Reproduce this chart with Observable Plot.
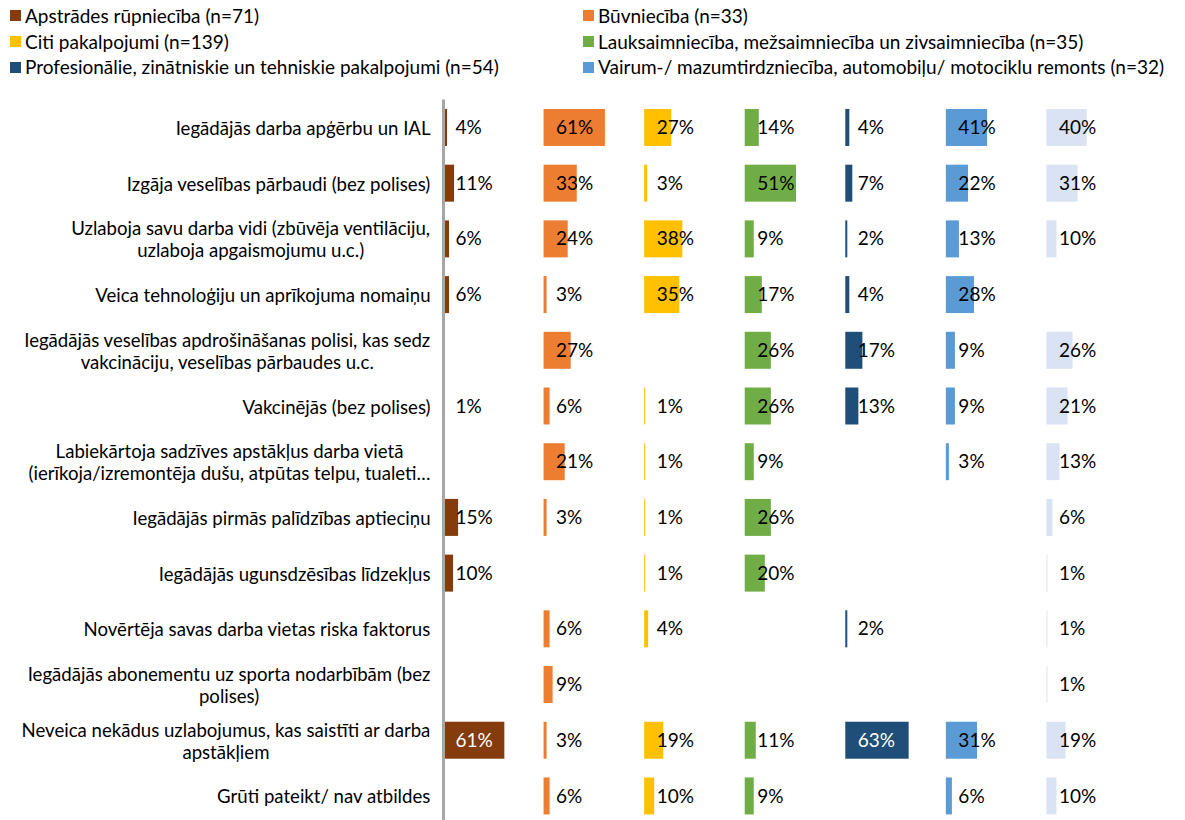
<!DOCTYPE html>
<html><head><meta charset="utf-8">
<script src="https://cdn.jsdelivr.net/npm/d3@7"></script>
<script src="https://cdn.jsdelivr.net/npm/@observablehq/plot@0.6"></script>
<style>
body{margin:0;background:#fff;font-family:Lato,sans-serif;}
#legend{display:grid;grid-template-columns:573px auto;grid-auto-rows:25.7px;padding:3px 0 0 10px;height:85px;box-sizing:border-box;}
.li{display:flex;align-items:center;height:25.7px;line-height:25.7px;font-size:19px;color:#000;white-space:nowrap;}
.sw{width:11px;height:11px;margin-right:4px;flex:none;}
#chart svg{display:block;}
</style></head><body>
<div id="legend"></div>
<div id="chart"></div>
<script>
const categories = [
  "Iegādājās darba apģērbu un IAL",
  "Izgāja veselības pārbaudi (bez polises)",
  "Uzlaboja savu darba vidi (zbūvēja ventilāciju,\nuzlaboja apgaismojumu u.c.)",
  "Veica tehnoloģiju un aprīkojuma nomaiņu",
  "Iegādājās veselības apdrošināšanas polisi, kas sedz\nvakcināciju, veselības pārbaudes u.c.",
  "Vakcinējās (bez polises)",
  "Labiekārtoja sadzīves apstākļus darba vietā\n(ierīkoja/izremontēja dušu, atpūtas telpu, tualeti…",
  "Iegādājās pirmās palīdzības aptieciņu",
  "Iegādājās ugunsdzēsības līdzekļus",
  "Novērtēja savas darba vietas riska faktorus",
  "Iegādājās abonementu uz sporta nodarbībām (bez\npolises)",
  "Neveica nekādus uzlabojumus, kas saistīti ar darba\napstākļiem",
  "Grūti pateikt/ nav atbildes"
];
const seriesNames = [
  "Apstrādes rūpniecība (n=71)",
  "Būvniecība (n=33)",
  "Citi pakalpojumi (n=139)",
  "Lauksaimniecība, mežsaimniecība un zivsaimniecība (n=35)",
  "Profesionālie, zinātniskie un tehniskie pakalpojumi (n=54)",
  "Vairum-/ mazumtirdzniecība, automobiļu/ motociklu remonts (n=32)",
  "Kopā"
];
const legendOrder = [0, 1, 2, 3, 4, 5];
const seriesColors = ["#843c0c", "#ed7d31", "#ffc000", "#70ad47", "#1f4e79", "#5b9bd5", "#dae3f3"];
const apstrades  = [4, 11, 6, 6, null, 1, null, 15, 10, null, null, 61, null];
const buvnieciba = [61, 33, 24, 3, 27, 6, 21, 3, null, 6, 9, 3, 6];
const citi       = [27, 3, 38, 35, null, 1, 1, 1, 1, 4, null, 19, 10];
const lauks      = [14, 51, 9, 17, 26, 26, 9, 26, 20, null, null, 11, 9];
const profes     = [4, 7, 2, 4, 17, 13, null, null, null, 2, null, 63, null];
const vairum     = [41, 22, 13, 28, 9, 9, 3, null, null, null, null, 31, 6];
const kopa       = [40, 31, 10, null, 26, 21, 13, 6, 1, 1, 1, 19, 10];
const seriesValues = [apstrades, buvnieciba, citi, lauks, profes, vairum, kopa];

// legend
const leg = document.getElementById("legend");
legendOrder.forEach(i => {
  const d = document.createElement("div");
  d.className = "li";
  d.innerHTML = `<span class="sw" style="background:${seriesColors[i]}"></span><span></span>`;
  d.lastChild.textContent = seriesNames[i];
  leg.appendChild(d);
});

const rows = [];
seriesValues.forEach((vals, si) => vals.forEach((v, ci) => {
  if (v != null) rows.push({series: seriesNames[si], cat: categories[ci], value: v, si});
}));

const W = 1185, H = 820 - 85;
const mL = 443, mR = 38;
const facetW = (W - mL - mR) / seriesNames.length;
const pxPerUnit = facetW / 100;
const FS = 19, CFS = 18.6;
const ctx = document.createElement("canvas").getContext("2d");
ctx.font = CFS + "px Lato";
const blockW = s => Math.max(...s.split("\n").map(l => ctx.measureText(l).width));

const whiteLabel = d => d3.lab(seriesColors[d.si]).l < 45 && d.value * pxPerUnit > 50;

const chart = Plot.plot({
  width: W, height: H,
  marginLeft: mL, marginRight: mR, marginTop: 18.4, marginBottom: 0,
  style: {fontFamily: "Lato, sans-serif", fontSize: FS + "px", background: "#fff"},
  fx: {domain: seriesNames, padding: 0, axis: null, round: false},
  x: {domain: [0, 100], axis: null},
  y: {domain: categories, paddingInner: 0.336, paddingOuter: 0.1, round: false, axis: null},
  color: {domain: seriesNames, range: seriesColors},
  marks: [
    Plot.barX(rows, {fx: "series", y: "cat", x: "value", fill: "series"}),
    Plot.text(rows.filter(d => !whiteLabel(d)), {
      fx: "series", y: "cat", x: 0, dx: 12, text: d => d.value + "%",
      textAnchor: "start", fontSize: FS, fill: "black"
    }),
    Plot.text(rows.filter(whiteLabel), {
      fx: "series", y: "cat", x: 0, dx: 12, text: d => d.value + "%",
      textAnchor: "start", fontSize: FS, fill: "white"
    }),
    Plot.ruleX([0], {fx: () => seriesNames[0], stroke: "#a6a6a6", strokeWidth: 3, insetTop: -4}),
    Plot.text(categories, {
      fx: () => seriesNames[0], y: d => d, text: d => d,
      x: d => -(13 + blockW(d) / 2) / pxPerUnit,
      textAnchor: "middle", lineAnchor: "middle", lineHeight: 22 / CFS, dy: 0,
      fontSize: CFS, fill: "black"
    })
  ]
});
document.getElementById("chart").appendChild(chart);
</script>
</body></html>
